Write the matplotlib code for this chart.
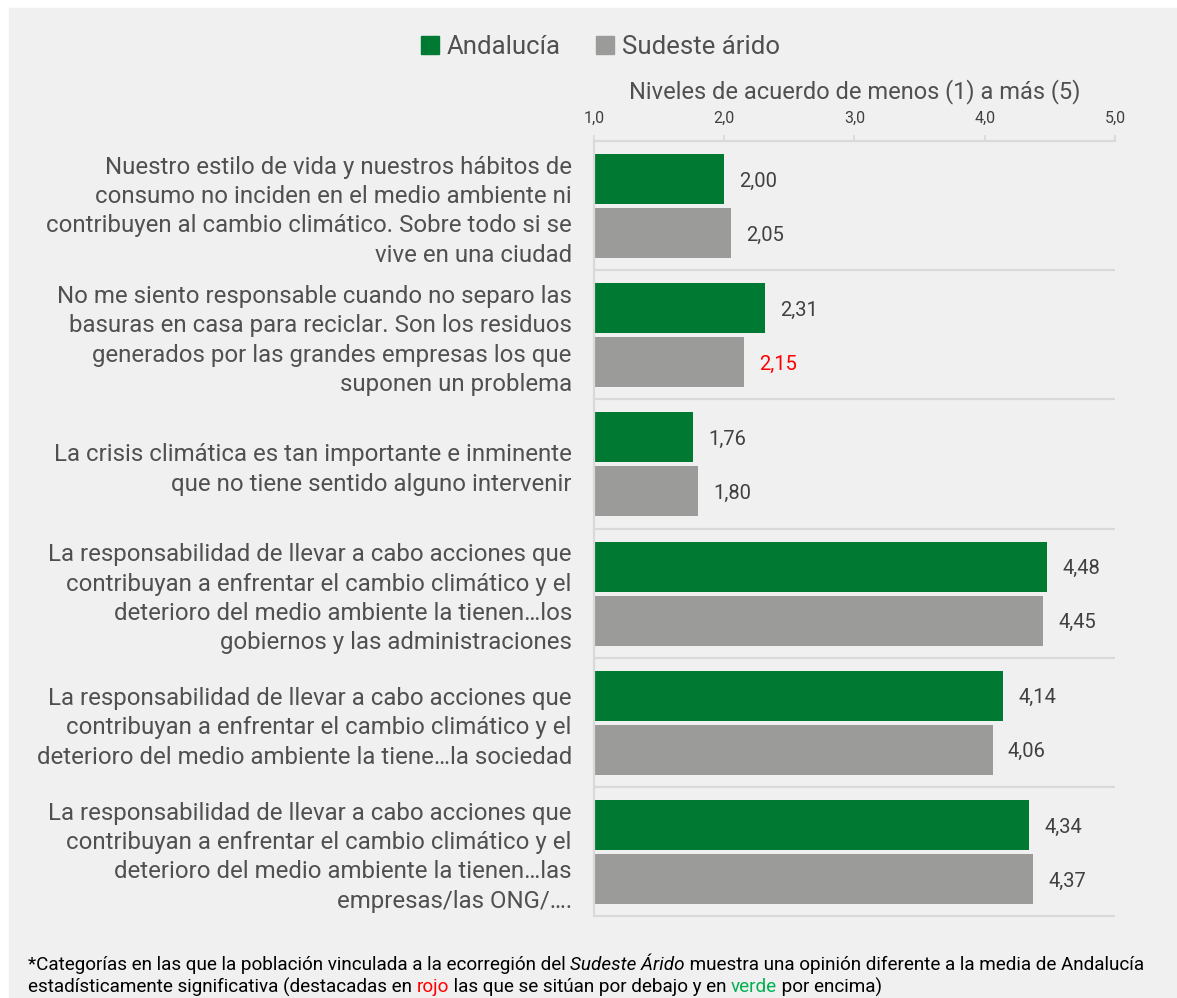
import numpy as np
import matplotlib.pyplot as plt
from matplotlib.patches import Rectangle, Patch

plt.rcParams['font.family'] = ['Roboto', 'DejaVu Sans']

# data
categories = [
    "Nuestro estilo de vida y nuestros hábitos de\nconsumo no inciden en el medio ambiente ni\n"
    "contribuyen al cambio climático. Sobre todo si se\nvive en una ciudad",
    "No me siento responsable cuando no separo las\nbasuras en casa para reciclar. Son los residuos\n"
    "generados por las grandes empresas los que\nsuponen un problema",
    "La crisis climática es tan importante e inminente\nque no tiene sentido alguno intervenir",
    "La responsabilidad de llevar a cabo acciones que\ncontribuyan a enfrentar el cambio climático y el\n"
    "deterioro del medio ambiente la tienen…los\ngobiernos y las administraciones",
    "La responsabilidad de llevar a cabo acciones que\ncontribuyan a enfrentar el cambio climático y el\n"
    "deterioro del medio ambiente la tiene…la sociedad",
    "La responsabilidad de llevar a cabo acciones que\ncontribuyan a enfrentar el cambio climático y el\n"
    "deterioro del medio ambiente la tienen…las\nempresas/las ONG/….",
]
andalucia = [2.00, 2.31, 1.76, 4.48, 4.14, 4.34]
sudeste = [2.05, 2.15, 1.80, 4.45, 4.06, 4.37]
sudeste_label_colors = ['#404040', '#ff0000', '#404040', '#404040', '#404040', '#404040']
series_names = ['Andalucía', 'Sudeste árido']
xticks = [1, 2, 3, 4, 5]
xtick_labels = ['1,0', '2,0', '3,0', '4,0', '5,0']

GREEN = '#007a33'
GRAY = '#9b9b99'
LINE = '#d9d9d9'
TEXT = '#505050'

fig = plt.figure(figsize=(11.77, 9.98), dpi=100)
fig.patches.append(Rectangle((9 / 1177, 0), 1, 1 - 8 / 998, transform=fig.transFigure,
                             color='#f0f0f0', zorder=-10))

ax = fig.add_axes([594 / 1177, 1 - 916 / 998, 521 / 1177, 775 / 998])
ax.set_facecolor('none')

n = len(categories)
grp = np.arange(n)
y_and = grp + 0.295
y_sud = grp + 0.713
h = 0.388

ax.barh(y_and, andalucia, height=h, color=GREEN)
ax.barh(y_sud, sudeste, height=h, color=GRAY)

for v, y in zip(andalucia, y_and):
    ax.annotate(f'{v:.2f}'.replace('.', ','), xy=(v, y), xytext=(11, -1.5),
                textcoords='offset points', va='center', fontsize=14.5, color='#404040')
for v, y, c in zip(sudeste, y_sud, sudeste_label_colors):
    ax.annotate(f'{v:.2f}'.replace('.', ','), xy=(v, y), xytext=(11, -1.5),
                textcoords='offset points', va='center', fontsize=14.5, color=c)

ax.hlines(np.arange(1, n + 1), 1, 5, color=LINE, lw=1.6, clip_on=False)

ax.set_xlim(1, 5)
ax.set_ylim(n, 0)
ax.xaxis.tick_top()
ax.set_xticks(xticks, xtick_labels)
ax.tick_params(axis='x', length=4, color=LINE, width=1.2, labelsize=11.5, labelcolor='#404040', pad=7)
ax.xaxis.set_label_position('top')
ax.set_xlabel('Niveles de acuerdo de menos (1) a más (5)', fontsize=17, color=TEXT, labelpad=9)

ax.set_yticks(grp + 0.5, categories)
ax.tick_params(axis='y', length=0, labelsize=17.3, labelcolor=TEXT, pad=16)
for t in ax.get_yticklabels():
    t.set_linespacing(1.35)

for s in ['right', 'bottom']:
    ax.spines[s].set_visible(False)
for s in ['top', 'left']:
    ax.spines[s].set_color(LINE)
    ax.spines[s].set_linewidth(1.6)

handles = [Patch(color=GREEN), Patch(color=GRAY)]
fig.legend(handles, series_names, loc='center', bbox_to_anchor=(0.51, 1 - 47 / 998), ncol=2,
           frameon=False, fontsize=18.5, handlelength=0.7, handleheight=0.7,
           handletextpad=0.3, columnspacing=1.4, labelcolor=TEXT)

# footnote, written piece by piece for the colored / italic words
def chain(pieces, x, y):
    prev = fig.text(x, y, pieces[0][0], fontsize=13.6, color=pieces[0][1],
                    style=pieces[0][2], va='center', ha='left')
    for txt, col, st in pieces[1:]:
        prev = ax.annotate(txt, xy=(1, 0.5), xycoords=prev, va='center', ha='left',
                           fontsize=13.6, color=col, style=st)

chain([("*Categorías en las que la población vinculada a la ecorregión del ", 'black', 'normal'),
       ("Sudeste Árido", 'black', 'italic'),
       (" muestra una opinión diferente a la media de Andalucía", 'black', 'normal')],
      28 / 1177, 1 - 965 / 998)
chain([("estadísticamente significativa (destacadas en ", 'black', 'normal'),
       ("rojo", '#ff0000', 'normal'),
       (" las que se sitúan por debajo y en ", 'black', 'normal'),
       ("verde", '#00b050', 'normal'),
       (" por encima)", 'black', 'normal')],
      28 / 1177, 1 - 987 / 998)

fig.savefig('out.png', dpi=100)
